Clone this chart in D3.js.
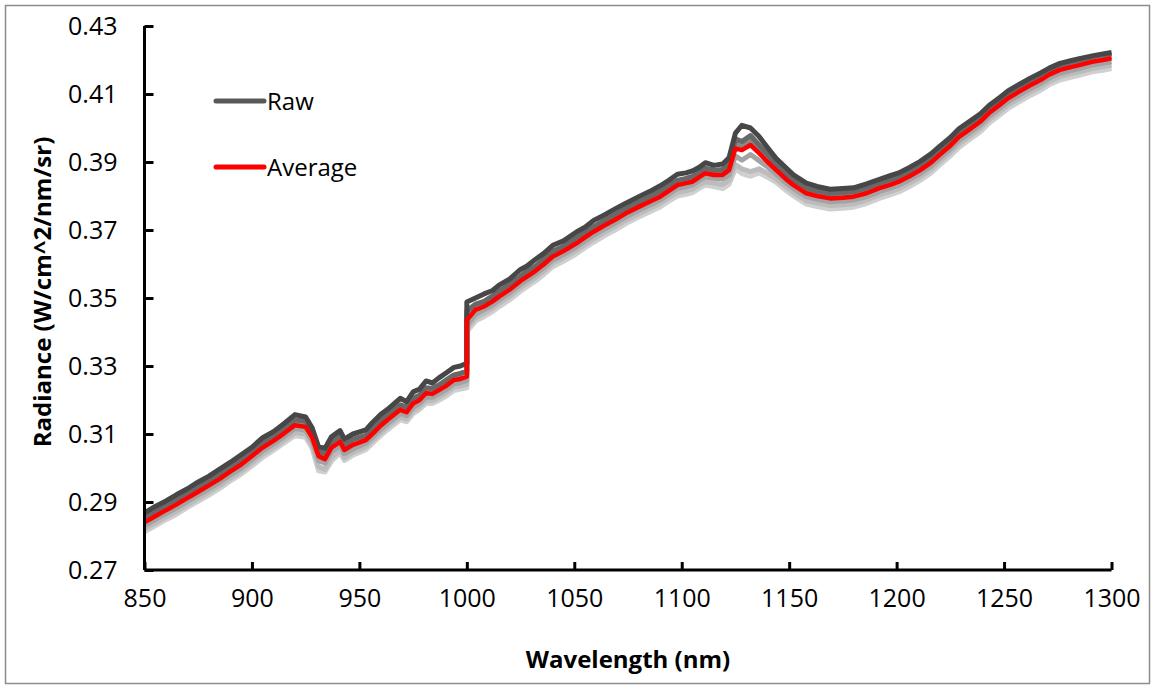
<!DOCTYPE html>
<html><head><meta charset="utf-8">
<script src="https://cdn.jsdelivr.net/npm/d3@7"></script>
<style>body{margin:0;background:#fff}svg{display:block}</style>
</head><body><div id="chart"></div>
<script>
const wavelengths = [850,855,860,865,870,875,880,885,890,895,900,905,910,915,920,925,928,931,934,937,941,943,947,953,956,960,963,969,972,975,978,981,984,987,990,994,997,1000,
1000,1004,1008,1012,1015,1020,1025,1028,1032,1036,1040,1045,1051,1055,1059,1064,1069,1074,1080,1085,1090,1094,1098,1102,1105,1108,1111,1115,1119,1122,1125,1128,1132,1136,1140,1144,1149,1152,1158,1163,1169,1175,1180,1186,1192,1197,1201,1206,1211,1216,1220,1225,1229,1234,1239,1243,1248,1252,1257,1262,1267,1271,1276,1281,1285,1291,1296,1300];

const average = [.2840,.2858,.2876,.2893,.2912,.2930,.2949,.2968,.2990,.3010,.3035,.3060,.3080,.3102,.3126,.3121,.3090,.3035,.3026,.3060,.3077,.3053,.3068,.3082,.3100,.3125,.3141,.3171,.3164,.3190,.3200,.3220,.3218,.3229,.3240,.3259,.3262,.3269,
.3435,.3465,.3475,.3490,.3504,.3525,.3550,.3563,.3580,.3600,.3622,.3638,.3661,.3678,.3695,.3713,.3730,.3749,.3768,.3783,.3798,.3815,.3832,.3838,.3842,.3855,.3867,.3862,.3862,.3876,.3940,.3935,.3950,.3926,.3900,.3876,.3847,.3832,.3808,.3800,.3793,.3795,.3798,.3808,.3823,.3833,.3842,.3858,.3876,.3898,.3921,.3948,.3974,.3996,.4019,.4044,.4068,.4088,.4107,.4125,.4141,.4157,.4171,.4179,.4185,.4195,.4200,.4205];

const raw1 = [.2868,.2887,.2903,.2922,.2939,.2959,.2976,.2997,.3017,.3039,.3061,.3089,.3107,.3131,.3157,.3150,.3118,.3062,.3058,.3092,.3110,.3085,.3100,.3112,.3133,.3158,.3172,.3205,.3195,.3224,.3232,.3256,.3250,.3265,.3278,.3296,.3300,.3308,
.3488,.3500,.3512,.3522,.3538,.3556,.3584,.3594,.3614,.3632,.3655,.3668,.3694,.3708,.3728,.3744,.3762,.3779,.3798,.3813,.3830,.3846,.3864,.3868,.3874,.3884,.3898,.3890,.3894,.3912,.3985,.4008,.4000,.3975,.3942,.3910,.3880,.3862,.3838,.3828,.3820,.3822,.3824,.3836,.3849,.3860,.3868,.3884,.3902,.3924,.3946,.3972,.3998,.4020,.4042,.4066,.4090,.4110,.4128,.4146,.4162,.4176,.4190,.4198,.4204,.4212,.4218,.4222];

const raw2 = [.2855,.2872,.2892,.2908,.2928,.2944,.2965,.2982,.3006,.3024,.3050,.3074,.3096,.3117,.3142,.3138,.3104,.3050,.3042,.3078,.3094,.3068,.3085,.3096,.3116,.3140,.3158,.3186,.3180,.3206,.3214,.3236,.3234,.3244,.3257,.3274,.3278,.3286,
.3462,.3482,.3490,.3506,.3520,.3541,.3564,.3580,.3594,.3616,.3638,.3652,.3678,.3692,.3710,.3728,.3746,.3764,.3782,.3798,.3814,.3830,.3846,.3852,.3858,.3870,.3882,.3876,.3878,.3895,.3968,.3960,.3978,.3950,.3922,.3894,.3864,.3848,.3824,.3815,.3808,.3810,.3813,.3824,.3838,.3848,.3857,.3873,.3891,.3913,.3936,.3962,.3989,.4011,.4034,.4058,.4083,.4103,.4122,.4140,.4156,.4171,.4185,.4194,.4200,.4210,.4215,.4219];

const raw3 = [.2845,.2864,.2880,.2899,.2916,.2936,.2953,.2974,.2994,.3016,.3040,.3064,.3086,.3108,.3132,.3128,.3096,.3040,.3032,.3066,.3082,.3060,.3072,.3088,.3104,.3130,.3146,.3176,.3170,.3194,.3206,.3224,.3224,.3233,.3246,.3264,.3268,.3275,
.3445,.3470,.3480,.3496,.3509,.3530,.3556,.3568,.3585,.3606,.3627,.3643,.3667,.3682,.3700,.3718,.3735,.3754,.3773,.3788,.3803,.3820,.3836,.3843,.3848,.3860,.3872,.3868,.3867,.3882,.3952,.3944,.3962,.3936,.3910,.3884,.3852,.3838,.3813,.3805,.3798,.3800,.3803,.3814,.3828,.3838,.3847,.3863,.3881,.3903,.3926,.3953,.3979,.4001,.4024,.4049,.4073,.4093,.4112,.4130,.4146,.4162,.4176,.4184,.4190,.4200,.4205,.4210];

const raw4 = [.2830,.2848,.2866,.2883,.2902,.2920,.2939,.2958,.2980,.2999,.3025,.3050,.3070,.3092,.3116,.3111,.3080,.3022,.3014,.3048,.3065,.3042,.3056,.3072,.3090,.3114,.3130,.3160,.3154,.3178,.3190,.3208,.3208,.3218,.3229,.3248,.3251,.3258,
.3420,.3452,.3465,.3480,.3494,.3515,.3540,.3553,.3570,.3590,.3612,.3628,.3650,.3668,.3684,.3703,.3720,.3739,.3758,.3773,.3788,.3805,.3822,.3828,.3832,.3845,.3856,.3852,.3850,.3862,.3918,.3905,.3922,.3904,.3885,.3864,.3836,.3822,.3798,.3790,.3783,.3785,.3788,.3798,.3813,.3823,.3832,.3848,.3866,.3888,.3911,.3938,.3963,.3986,.4009,.4034,.4058,.4078,.4097,.4115,.4131,.4147,.4161,.4169,.4175,.4185,.4190,.4195];

const raw5 = [.2820,.2838,.2856,.2873,.2892,.2910,.2929,.2948,.2970,.2990,.3015,.3040,.3060,.3082,.3104,.3100,.3068,.3004,.2996,.3030,.3052,.3030,.3046,.3062,.3080,.3104,.3121,.3150,.3144,.3168,.3180,.3198,.3198,.3208,.3219,.3238,.3241,.3246,
.3410,.3442,.3455,.3470,.3484,.3505,.3530,.3543,.3560,.3580,.3602,.3618,.3640,.3658,.3674,.3693,.3710,.3729,.3748,.3763,.3778,.3795,.3810,.3815,.3820,.3832,.3842,.3838,.3834,.3846,.3892,.3880,.3872,.3880,.3866,.3850,.3824,.3810,.3786,.3779,.3772,.3774,.3777,.3788,.3803,.3813,.3822,.3838,.3856,.3878,.3901,.3928,.3953,.3976,.3999,.4024,.4048,.4068,.4087,.4105,.4121,.4137,.4151,.4159,.4165,.4175,.4180,.4185];

const raw6 = [.2812,.2830,.2848,.2864,.2884,.2902,.2920,.2940,.2962,.2982,.3006,.3031,.3052,.3074,.3095,.3090,.3058,.2992,.2988,.3020,.3044,.3022,.3038,.3054,.3072,.3096,.3112,.3142,.3136,.3160,.3172,.3190,.3190,.3199,.3210,.3228,.3232,.3236,
.3400,.3432,.3445,.3460,.3474,.3495,.3520,.3533,.3550,.3570,.3592,.3608,.3630,.3648,.3664,.3683,.3700,.3719,.3738,.3753,.3768,.3785,.3800,.3805,.3810,.3822,.3832,.3828,.3822,.3834,.3880,.3866,.3858,.3868,.3855,.3840,.3814,.3800,.3776,.3769,.3762,.3764,.3767,.3778,.3793,.3803,.3812,.3828,.3846,.3868,.3891,.3918,.3943,.3966,.3989,.4014,.4038,.4058,.4077,.4095,.4111,.4127,.4141,.4149,.4155,.4165,.4170,.4175];

const rawSeries = [raw6, raw5, raw4, raw3, raw2, raw1];
const rawColors = ["#d0d0d0", "#bcbcbc", "#a3a3a3", "#888888", "#686868", "#474747"];
const xTicks = [850,900,950,1000,1050,1100,1150,1200,1250,1300];
const yTicks = [0.27,0.29,0.31,0.33,0.35,0.37,0.39,0.41,0.43];
const legendLabels = ["Raw", "Average"];

const W = 1155, H = 689;
const M = {left: 144.5, right: 1111.5, top: 26, bottom: 570};
const FONT = "'Open Sans', 'Liberation Sans', sans-serif";

const svg = d3.select("#chart").append("svg").attr("width", W).attr("height", H);
svg.append("rect").attr("x", 5.5).attr("y", 5.5).attr("width", 1144).attr("height", 678)
  .attr("fill", "#fff").attr("stroke", "#8c8c8c").attr("stroke-width", 1.5);

const x = d3.scaleLinear().domain([850, 1300]).range([M.left, M.right]);
const y = d3.scaleLinear().domain([0.27, 0.43]).range([M.bottom, M.top]);

const line = d3.line().x((d, i) => x(wavelengths[i])).y(d => y(d));

const g = svg.append("g");
rawSeries.forEach((s, k) => {
  g.append("path").datum(s).attr("d", line).attr("fill", "none")
    .attr("stroke", rawColors[k]).attr("stroke-width", 5).attr("stroke-linejoin", "round");
});
g.append("path").datum(average).attr("d", line).attr("fill", "none")
  .attr("stroke", "#ff0000").attr("stroke-width", 4.5).attr("stroke-linejoin", "round");

// axes
const xAxis = d3.axisBottom(x).tickValues(xTicks).tickSize(-8).tickPadding(20).tickFormat(d3.format("d"));
const yAxis = d3.axisLeft(y).tickValues(yTicks).tickSize(-9).tickPadding(27).tickFormat(d3.format(".2f"));

const gx = svg.append("g").attr("transform", `translate(0,${M.bottom})`).call(xAxis);
const gy = svg.append("g").attr("transform", `translate(${M.left},0)`).call(yAxis);
[gx, gy].forEach(a => {
  a.select(".domain").attr("stroke", "#000").attr("stroke-width", 3).attr("d",
    a === gx ? `M${M.left},0H${M.right}` : `M0,${M.bottom}V${M.top}`);
  a.selectAll(".tick line").attr("stroke", "#000").attr("stroke-width", 3);
  a.selectAll(".tick text").attr("font-family", FONT).attr("font-size", 25).attr("fill", "#000");
});
gx.selectAll(".tick text").attr("dy", "0.68em");

svg.append("text").attr("x", 628).attr("y", 668).attr("text-anchor", "middle")
  .attr("font-family", FONT).attr("font-weight", "bold").attr("font-size", 24).text("Wavelength (nm)");
svg.append("text").attr("transform", "translate(51,292) rotate(-90)").attr("text-anchor", "middle")
  .attr("font-family", FONT).attr("font-weight", "bold").attr("font-size", 24).text("Radiance (W/cm^2/nm/sr)");

// legend
const legColors = ["#595959", "#ff0000"];
legendLabels.forEach((lab, i) => {
  const ly = 101 + i * 66;
  svg.append("line").attr("x1", 216).attr("x2", 264).attr("y1", ly).attr("y2", ly)
    .attr("stroke", legColors[i]).attr("stroke-width", 5).attr("stroke-linecap", "round");
  svg.append("text").attr("x", 267).attr("y", ly).attr("dy", "0.36em")
    .attr("font-family", FONT).attr("font-size", 24).text(lab);
});
</script></body></html>
